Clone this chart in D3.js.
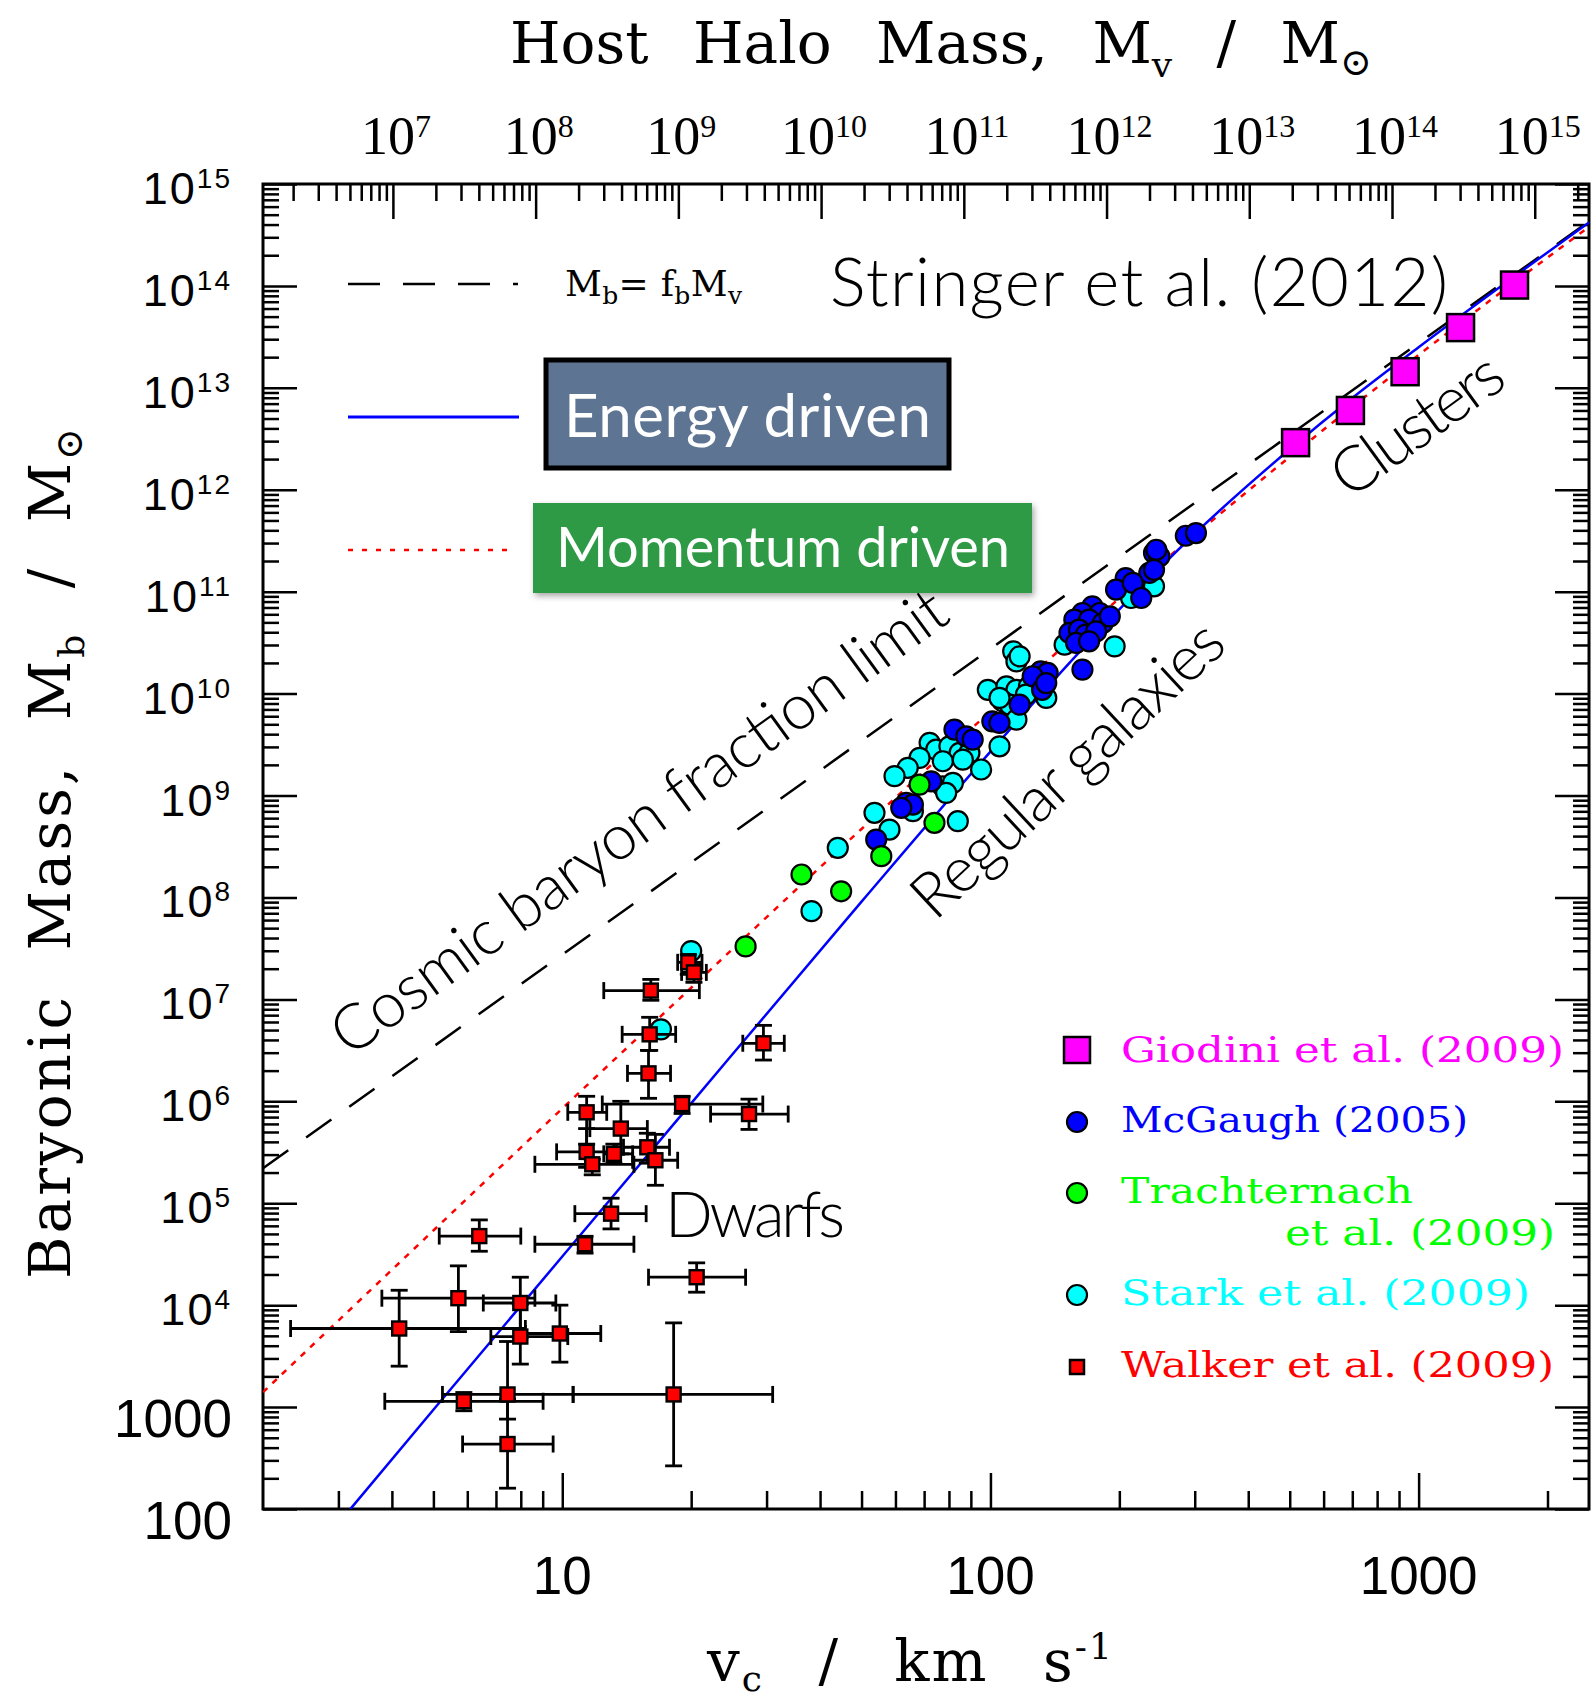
<!DOCTYPE html>
<html>
<head>
<meta charset="utf-8">
<script src="https://cdn.jsdelivr.net/npm/d3@7"></script>
<style>
  body { margin: 0; background: #fff; }
  svg { display: block; }
  .ax line { stroke: #000; stroke-width: 2.5px; }
  .frame { fill: none; stroke: #000; stroke-width: 3px; }
  .sm { font-family: "Liberation Serif", serif; fill: #000; }
  .title { font-family: "DejaVu Serif", serif; fill: #000; }
  .num { font-family: "Liberation Sans", sans-serif; fill: #000; }
  .gill { font-family: Lato, "Open Sans", sans-serif; font-weight: 300; fill: #000; }
  .leg { font-family: "DejaVu Serif", serif; font-size: 36px; }
</style>
</head>
<body>
<svg id="chart" width="1591" height="1700"></svg>
<script>
'use strict';

// data: [v_c (km/s), M_b (Msun)]
const giodini = [[516, 2.9e12], [693, 6.0e12], [930, 1.44e13], [1253, 3.9e13], [1675, 1.02e14]];

const mcgaugh = [
  [286, 3.54e11], [302, 3.76e11], [241, 2.40e11], [248, 2.22e11], [244, 2.58e11],
  [235, 1.53e11], [241, 1.64e11], [207, 1.36e11], [196.5, 1.05e11], [215, 1.22e11],
  [225, 8.67e10], [173, 7.17e10], [164, 6.18e10], [180, 6.18e10], [157, 5.32e10],
  [170, 5.32e10], [183, 4.93e10], [190, 5.73e10], [153, 3.94e10], [161, 4.24e10],
  [167, 3.79e10], [176.5, 4.08e10], [158.5, 3.14e10], [170, 3.26e10], [164, 1.72e10],
  [131, 1.65e10], [136, 1.60e10], [125.5, 1.48e10], [132, 1.09e10], [135, 1.27e10],
  [117, 7.80e9], [101, 5.35e9], [105, 5.16e9], [82.4, 4.44e9], [87.8, 3.81e9],
  [90.9, 3.54e9], [72.7, 1.38e9], [63.6, 8.48e8], [65.9, 8.16e8], [61.9, 7.58e8],
  [54.1, 3.70e8]
];

const stark = [
  [241, 1.13e11], [213, 8.67e10], [149, 3.02e10], [195, 2.91e10], [113, 2.60e10],
  [115, 2.07e10], [117, 2.32e10], [98.6, 1.09e10], [109, 1.18e10], [115, 1.09e10],
  [123, 1.18e10], [121, 9.78e9], [135, 9.08e9], [107, 8.40e9], [111, 7.80e9],
  [105, 9.08e9], [115, 5.56e9], [105, 3.04e9], [72.1, 3.29e9], [74.7, 2.82e9],
  [80.2, 3.04e9], [84.7, 2.62e9], [89.3, 2.62e9], [77.4, 2.17e9], [86.2, 2.25e9],
  [68.3, 2.34e9], [64.1, 1.87e9], [59.7, 1.55e9], [95.1, 1.80e9], [77.4, 1.23e9],
  [81.7, 1.33e9], [78.8, 1.06e9], [65.9, 7.02e8], [53.6, 6.77e8], [58.1, 4.64e8],
  [83.9, 5.60e8], [44.0, 3.07e8], [38.2, 7.34e7], [17.0, 5.08e6], [20.0, 2.98e7]
];

const trachternach = [[68.3, 1.28e9], [74.0, 5.40e8], [55.6, 2.54e8], [36.2, 1.68e8], [44.8, 1.15e8], [26.8, 3.31e7]];

// [v, M, v_lo, v_hi, M_lo, M_hi]
const walker = [
  [19.7, 2.31e7, 18.6, 21.2, 1.76e7, 2.76e7],
  [20.3, 1.84e7, 19.0, 21.7, 1.47e7, 2.2e7],
  [16.1, 1.22e7, 12.5, 20.9, 9.8e6, 1.57e7],
  [16.0, 4.54e6, 13.8, 18.4, 3.16e6, 6.67e6],
  [15.9, 1.88e6, 14.2, 17.9, 1.07e6, 3.16e6],
  [29.5, 3.71e6, 26.4, 33.0, 2.54e6, 5.56e6],
  [19.05, 9.4e5, 12.4, 29.4, 7.6e5, 1.12e6],
  [27.3, 7.5e5, 22.2, 33.7, 5.3e5, 1.05e6],
  [11.4, 7.8e5, 10.3, 12.7, 3.8e5, 1.12e6],
  [13.7, 5.4e5, 11.6, 15.8, 3.05e5, 1.0e6],
  [15.8, 3.54e5, 13.9, 17.8, 2.47e5, 4.86e5],
  [11.4, 3.19e5, 9.7, 13.4, 2.25e5, 5.4e5],
  [13.2, 3.05e5, 12.5, 14.6, 2.47e5, 3.8e5],
  [11.75, 2.41e5, 8.63, 14.7, 1.9e5, 2.7e5],
  [16.5, 2.64e5, 14.6, 18.6, 1.5e5, 4.74e5],
  [13.0, 7.9e4, 10.7, 15.7, 5.6e4, 1.12e5],
  [11.3, 3.96e4, 8.63, 14.7, 3.24e4, 4.74e4],
  [6.4, 4.76e4, 5.16, 8.0, 3.38e4, 6.86e4],
  [20.6, 1.88e4, 15.9, 26.8, 1.34e4, 2.6e4],
  [5.72, 1.17e4, 3.79, 8.63, 5.5e3, 2.43e4],
  [7.98, 1.05e4, 6.54, 9.66, 4.85e3, 1.88e4],
  [4.16, 5.9e3, 2.32, 8.2, 2.52e3, 1.4e4],
  [7.98, 4.92e3, 6.81, 10.3, 2.64e3, 1.02e4],
  [9.87, 5.27e3, 8.2, 12.3, 2.76e3, 1.0e4],
  [5.89, 1.14e3, 3.85, 9.02, 920, 1.39e3],
  [7.45, 1.33e3, 5.25, 10.6, 762, 4.4e3],
  [18.2, 1.33e3, 10.6, 31.0, 265, 6.7e3],
  [7.45, 434, 5.85, 9.52, 160, 1.2e3]
];

// model curves
const fbLine = [[2, 2.2e5], [2500, 4.3e14]];
const energyLine = [[3.2, 100], [5, 9.4e2], [10, 3.0e4], [20, 9.55e5], [50, 9.1e7], [100, 2.7e9],
  [150, 1.83e10], [200, 6.7e10], [300, 3.7e11], [500, 2.5e12], [700, 7.95e12], [1000, 2.5e13], [2500, 4.2e14]];
const momentumLine = [[2, 1.4e3], [5, 5.4e4], [10, 8.5e5], [20, 1.3e7], [50, 4.7e8], [100, 6.7e9],
  [200, 8.6e10], [300, 3.6e11], [500, 2.1e12], [1000, 2.1e13], [2500, 3.8e14]];

// ticks
const yTickValues = [1e15, 1e14, 1e13, 1e12, 1e11, 1e10, 1e9, 1e8, 1e7, 1e6, 1e5, 1e4, 1e3, 1e2];
const yTickLabels = ["10^15", "10^14", "10^13", "10^12", "10^11", "10^10", "10^9", "10^8", "10^7", "10^6", "10^5", "10^4", "1000", "100"];
const xTickValues = [10, 100, 1000];
const xTickLabels = ["10", "100", "1000"];
const haloTickValues = [1e7, 1e8, 1e9, 1e10, 1e11, 1e12, 1e13, 1e14, 1e15];
const haloTickLabels = ["10^7", "10^8", "10^9", "10^10", "10^11", "10^12", "10^13", "10^14", "10^15"];

const L = 263, R = 1589, T = 184, B = 1509;

const x = d3.scaleLog().domain([2, 2500]).range([L, R]);
const y = d3.scaleLog().domain([100, 1e15]).range([B, T]);
const xHalo = d3.scaleLog().domain([1.23e6, 2.40e15]).range([L, R]);

function minorTicks(scale) {
  const [a, b] = scale.domain();
  const out = [];
  for (let e = Math.floor(Math.log10(a)); e <= Math.ceil(Math.log10(b)); e++) {
    for (let k = 2; k <= 9; k++) {
      const v = k * Math.pow(10, e);
      if (v > a && v < b) out.push(v);
    }
  }
  return out;
}

const svg = d3.select("#chart");

svg.append("defs").append("clipPath").attr("id", "clip")
  .append("rect").attr("x", L).attr("y", T).attr("width", R - L).attr("height", B - T);

const shadow = svg.select("defs").append("filter").attr("id", "shadow")
  .attr("x", "-10%").attr("y", "-10%").attr("width", "120%").attr("height", "130%");
shadow.append("feDropShadow").attr("dx", 2).attr("dy", 3).attr("stdDeviation", 3)
  .attr("flood-color", "#000").attr("flood-opacity", 0.35);

// ticks on all four sides, pointing in
function tickAxis(axisFn, scale, values, size, transform) {
  svg.append("g")
    .attr("class", "ax")
    .attr("transform", transform)
    .call(axisFn(scale).tickValues(values).tickSize(size).tickFormat(""))
    .call(g => g.select(".domain").remove());
}
tickAxis(d3.axisLeft, y, yTickValues, -34, `translate(${L},0)`);
tickAxis(d3.axisLeft, y, minorTicks(y), -16, `translate(${L},0)`);
tickAxis(d3.axisRight, y, yTickValues, -34, `translate(${R},0)`);
tickAxis(d3.axisRight, y, minorTicks(y), -16, `translate(${R},0)`);
tickAxis(d3.axisBottom, x, xTickValues, -36, `translate(0,${B})`);
tickAxis(d3.axisBottom, x, minorTicks(x), -18, `translate(0,${B})`);
tickAxis(d3.axisTop, xHalo, haloTickValues, -35, `translate(0,${T})`);
tickAxis(d3.axisTop, xHalo, minorTicks(xHalo), -17, `translate(0,${T})`);

svg.append("rect").attr("class", "frame")
  .attr("x", L).attr("y", T).attr("width", R - L).attr("height", B - T);

// tick labels
function powLabel(sel, label, big, small, rise) {
  const parts = label.split("^");
  sel.append("tspan").text(parts[0]).attr("font-size", big);
  if (parts[1]) sel.append("tspan").text(parts[1]).attr("font-size", small).attr("dy", -rise);
}

yTickLabels.forEach(function(lab, i) {
  const t = svg.append("text").attr("class", "num")
    .attr("text-anchor", "end").attr("x", 232);
  if (lab.indexOf("^") > 0) {
    t.attr("y", y(yTickValues[i]) + 20).attr("letter-spacing", 2);
    powLabel(t, lab, 45, 28, 16);
  } else {
    t.attr("y", y(yTickValues[i]) + 30).attr("font-size", 53).text(lab);
  }
});

xTickLabels.forEach(function(lab, i) {
  svg.append("text").attr("class", "num")
    .attr("text-anchor", "middle").attr("font-size", 53)
    .attr("x", x(xTickValues[i])).attr("y", 1594).text(lab);
});

haloTickLabels.forEach(function(lab, i) {
  const t = svg.append("text").attr("class", "sm")
    .attr("text-anchor", "middle")
    .attr("x", xHalo(haloTickValues[i]) + 3).attr("y", 154);
  powLabel(t, lab, 54, 32, 17);
});

// axis titles: wide gaps between words, as in the original
const topTitle = svg.append("text").attr("class", "title").attr("font-size", 58)
  .attr("x", 510).attr("y", 63).attr("word-spacing", 26);
topTitle.append("tspan").text("Host Halo Mass, M");
topTitle.append("tspan").text("v").attr("font-size", 36).attr("dy", 14);
topTitle.append("tspan").text(" / M").attr("dy", -14);
topTitle.append("tspan").text("\u2299").attr("font-size", 38).attr("dy", 12);

const leftTitle = svg.append("text").attr("class", "title").attr("font-size", 58)
  .attr("transform", "translate(70,1279) rotate(-90)")
  .attr("word-spacing", 22).attr("letter-spacing", 3);
leftTitle.append("tspan").text("Baryonic Mass, M");
leftTitle.append("tspan").text("b").attr("font-size", 36).attr("dy", 14);
leftTitle.append("tspan").text(" / M").attr("dy", -14);
leftTitle.append("tspan").text("\u2299").attr("font-size", 38).attr("dy", 12);

const bottomTitle = svg.append("text").attr("class", "title").attr("font-size", 58)
  .attr("x", 707).attr("y", 1681).attr("word-spacing", 34).attr("letter-spacing", 2);
bottomTitle.append("tspan").text("v");
bottomTitle.append("tspan").text("c").attr("font-size", 36).attr("dy", 10);
bottomTitle.append("tspan").text(" / km s").attr("dy", -10);
bottomTitle.append("tspan").text("-1").attr("font-size", 36).attr("dy", -22);

// curves
const line = d3.line().x(d => x(d[0])).y(d => y(d[1]));
const curved = d3.line().x(d => x(d[0])).y(d => y(d[1])).curve(d3.curveMonotoneX);
const curves = svg.append("g").attr("clip-path", "url(#clip)");

curves.append("path").datum(fbLine).attr("d", line)
  .attr("fill", "none").attr("stroke", "#000").attr("stroke-width", 2.5)
  .attr("stroke-dasharray", "31,22");
curves.append("path").datum(momentumLine).attr("d", curved)
  .attr("fill", "none").attr("stroke", "#ff0000").attr("stroke-width", 2.5)
  .attr("stroke-dasharray", "6,7");
curves.append("path").datum(energyLine).attr("d", curved)
  .attr("fill", "none").attr("stroke", "#0000ff").attr("stroke-width", 2.5);

// galaxy points
function circles(data, colour) {
  svg.append("g").selectAll("circle").data(data).join("circle")
    .attr("cx", d => x(d[0])).attr("cy", d => y(d[1])).attr("r", 10)
    .attr("fill", colour).attr("stroke", "#000").attr("stroke-width", 2.2);
}
circles(stark, "#00ffff");
circles(mcgaugh, "#0000ff");
circles(trachternach, "#00ff00");

// dwarfs with error bars
const cap = 8.5;
const eb = svg.append("g").attr("stroke", "#000").attr("stroke-width", 2.8);
walker.forEach(function(d) {
  const cx = x(d[0]), cy = y(d[1]);
  const x0 = x(d[2]), x1 = x(d[3]), y0 = y(d[4]), y1 = y(d[5]);
  eb.append("line").attr("x1", x0).attr("x2", x1).attr("y1", cy).attr("y2", cy);
  eb.append("line").attr("x1", cx).attr("x2", cx).attr("y1", y0).attr("y2", y1);
  [x0, x1].forEach(function(px) {
    eb.append("line").attr("x1", px).attr("x2", px).attr("y1", cy - cap).attr("y2", cy + cap);
  });
  [y0, y1].forEach(function(py) {
    eb.append("line").attr("x1", cx - cap).attr("x2", cx + cap).attr("y1", py).attr("y2", py);
  });
});
svg.append("g").selectAll("rect").data(walker).join("rect")
  .attr("x", d => x(d[0]) - 7).attr("y", d => y(d[1]) - 7)
  .attr("width", 14).attr("height", 14)
  .attr("fill", "#ff0000").attr("stroke", "#000").attr("stroke-width", 2.4);

svg.append("g").selectAll("rect").data(giodini).join("rect")
  .attr("x", d => x(d[0]) - 13.5).attr("y", d => y(d[1]) - 13.5)
  .attr("width", 27).attr("height", 27)
  .attr("fill", "#ff00ff").attr("stroke", "#000").attr("stroke-width", 2.5);

// top-left key
svg.append("line").attr("x1", 348).attr("x2", 518).attr("y1", 284).attr("y2", 284)
  .attr("stroke", "#000").attr("stroke-width", 2.5).attr("stroke-dasharray", "32,23");
svg.append("line").attr("x1", 348).attr("x2", 519).attr("y1", 417).attr("y2", 417)
  .attr("stroke", "#0000ff").attr("stroke-width", 3);
svg.append("line").attr("x1", 348).attr("x2", 515).attr("y1", 550).attr("y2", 550)
  .attr("stroke", "#ff0000").attr("stroke-width", 2.5).attr("stroke-dasharray", "5,9");

const fb = svg.append("text").attr("class", "title").attr("font-size", 36)
  .attr("x", 565).attr("y", 296).attr("textLength", 177).attr("lengthAdjust", "spacing");
fb.append("tspan").text("M");
fb.append("tspan").text("b").attr("font-size", 25).attr("dy", 8);
fb.append("tspan").text("= f").attr("dy", -8);
fb.append("tspan").text("b").attr("font-size", 25).attr("dy", 8);
fb.append("tspan").text("M").attr("dy", -8);
fb.append("tspan").text("v").attr("font-size", 25).attr("dy", 8);

svg.append("text").attr("class", "gill").attr("font-size", 67)
  .attr("x", 830).attr("y", 306).attr("textLength", 618).attr("lengthAdjust", "spacing")
  .text("Stringer et al.  (2012)");

svg.append("rect").attr("x", 546).attr("y", 360).attr("width", 403).attr("height", 108)
  .attr("fill", "#5d7593").attr("stroke", "#000").attr("stroke-width", 5);
svg.append("text").attr("font-family", "Lato, 'Open Sans', sans-serif").attr("font-size", 60)
  .attr("fill", "#fff").attr("x", 564).attr("y", 437)
  .attr("textLength", 367).attr("lengthAdjust", "spacing").text("Energy driven");

svg.append("rect").attr("x", 533).attr("y", 503).attr("width", 499).attr("height", 90)
  .attr("fill", "#2f9a45").attr("filter", "url(#shadow)");
svg.append("text").attr("font-family", "Lato, 'Open Sans', sans-serif").attr("font-size", 56)
  .attr("fill", "#fff").attr("x", 556).attr("y", 567)
  .attr("textLength", 454).attr("lengthAdjust", "spacing").text("Momentum driven");

// region labels
function slanted(txt, px, py, angle, len) {
  svg.append("text").attr("class", "gill").attr("font-size", 63)
    .attr("transform", `translate(${px},${py}) rotate(${-angle})`)
    .attr("textLength", len).attr("lengthAdjust", "spacing").text(txt);
}
slanted("Cosmic baryon fraction limit", 350, 1058, 36, 745);
slanted("Regular galaxies", 935, 922, 43, 402);
slanted("Clusters", 1350, 500, 36, 197);
slanted("Dwarfs", 665, 1237, 0, 180);

// legend
const keyX = 1077;
const legendRows = [
  { label: "Giodini et al. (2009)", colour: "#ff00ff", shape: "big", y: 1050, base: 1062, len: 443 },
  { label: "McGaugh (2005)", colour: "#0000ff", shape: "circle", y: 1122, base: 1132, len: 347 },
  { label: "Trachternach", colour: "#00ff00", shape: "circle", y: 1193, base: 1203, len: 292 },
  { label: "Stark et al. (2009)", colour: "#00ffff", shape: "circle", y: 1295, base: 1305, len: 409 },
  { label: "Walker et al. (2009)", colour: "#ff0000", shape: "small", y: 1367, base: 1377, len: 433 }
];
legendRows.forEach(function(r) {
  if (r.shape === "circle") {
    svg.append("circle").attr("cx", keyX).attr("cy", r.y).attr("r", 10)
      .attr("fill", r.colour).attr("stroke", "#000").attr("stroke-width", 2.2);
  } else {
    const s = r.shape === "big" ? 26 : 14;
    svg.append("rect").attr("x", keyX - s / 2).attr("y", r.y - s / 2).attr("width", s).attr("height", s)
      .attr("fill", r.colour).attr("stroke", "#000").attr("stroke-width", 2.5);
  }
  svg.append("text").attr("class", "leg").attr("fill", r.colour)
    .attr("x", 1121).attr("y", r.base).attr("textLength", r.len).attr("lengthAdjust", "spacingAndGlyphs")
    .text(r.label);
});
svg.append("text").attr("class", "leg").attr("fill", "#00ff00")
  .attr("x", 1285).attr("y", 1245).attr("textLength", 270).attr("lengthAdjust", "spacingAndGlyphs")
  .text("et al. (2009)");
</script>
</body>
</html>
